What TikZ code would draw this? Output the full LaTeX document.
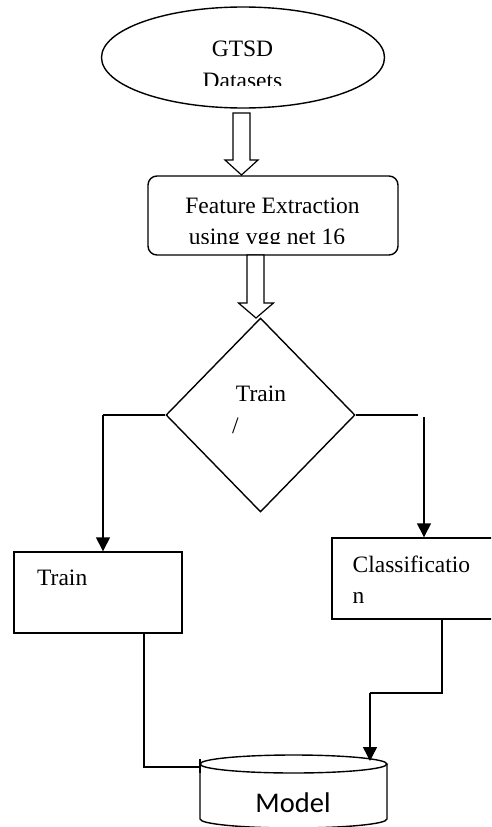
\documentclass[tikz,border=0pt]{standalone}
\usepackage{fontspec}
\setmainfont{Liberation Serif}
\newfontfamily\modelfont{Carlito}
\usetikzlibrary{shapes.geometric,arrows.meta}
\begin{document}
\begin{tikzpicture}[x=1pt,y=-1pt,
  line/.style={draw=black,line width=1.4pt},
  arr/.style={line,-{Triangle[length=14pt,width=14pt]}},
  box/.style={line,rectangle,inner sep=0pt},
  txt/.style={font=\fontsize{23.5}{28}\selectfont,inner sep=0pt,anchor=base},
  hollow/.style={draw=black,line width=1.2pt,fill=white,line join=miter}]
\clip (0,0) rectangle (491,827);
\fill[white] (0,0) rectangle (491,827);

% GTSD ellipse
\node[line,ellipse,minimum width=283pt,minimum height=101pt,inner sep=0pt] (gtsd) at (243,57.5) {};
\begin{scope}
  \clip (100,0) rectangle (400,85);
  \node[txt] (gtsdt1) at (242.5,56) {GTSD};
  \node[txt] (gtsdt2) at (242.5,88) {Datasets};
\end{scope}

% hollow arrow 1
\draw[hollow] (233,113) -- (233,160) -- (225,160) -- (241.5,175) -- (258,160) -- (250,160) -- (250,113) -- cycle;

% feature extraction
\node[box,rounded corners=9pt,minimum width=250pt,minimum height=79pt] (fe) at (273,215.5) {};
\begin{scope}
  \clip (150,178) rectangle (396,243);
  \node[txt] (fet1) at (272.5,213) {Feature Extraction};
  \node[txt] (fet2) at (267,244.5) {using vgg net 16};
\end{scope}

% hollow arrow 2
\draw[hollow] (247,255) -- (247,303) -- (238.5,303) -- (256,318) -- (273.5,303) -- (264,303) -- (264,255) -- cycle;

% diamond
\node[line,diamond,minimum width=189pt,minimum height=194pt,inner sep=0pt] (dia) at (260.5,415) {};
\node[txt] (diat1) at (261,401) {Train};
\node[txt] (diat2) at (235.5,433) {/};

% train box
\node[box,minimum width=168pt,minimum height=81pt] (train) at (98,592.5) {};
\node[txt,anchor=base west] (traint) at (37,585) {Train};

% classification box
\node[box,minimum width=170pt,minimum height=81pt] (cls) at (417,578.5) {};
\node[txt,anchor=base west] (clst1) at (352.5,572) {Classificatio};
\node[txt,anchor=base west] (clst2) at (352.5,603.5) {n};

% cylinder
\coordinate (cyl) at (293.5,764);
\draw[line,fill=white] (200,764) -- (200,819) arc[start angle=180,end angle=360,x radius=93.5pt,y radius=9pt] -- (387,764);
\draw[line] (cyl) ellipse[x radius=93.5pt,y radius=9pt];
\node[font=\modelfont\fontsize{28.5}{32}\selectfont,inner sep=0pt,anchor=base] (modelt) at (293,812) {Model};

% connectors
\coordinate (lt) at (103,415);
\draw[line] (dia.west) -- (lt);
\draw[arr] (lt) -- (lt |- train.north);

\coordinate (rt) at (418,415);
\coordinate (rv) at (424,417);
\draw[line] (dia.east) -- (rt);
\draw[arr] (rv) -- (rv |- cls.north);

\coordinate (lb) at (144,767);
\coordinate (cl) at (200,767);
\draw[line] (lb |- train.south) -- (lb) -- (cl);
\draw[line] (200,759) -- (200,773);

\coordinate (rb1) at (442,693);
\coordinate (rb2) at (370,693);
\coordinate (ct) at (370,761);
\draw[line] (rb1 |- cls.south) -- (rb1) -- (rb2);
\draw[arr] (rb2) -- (ct);
\end{tikzpicture}
\end{document}
